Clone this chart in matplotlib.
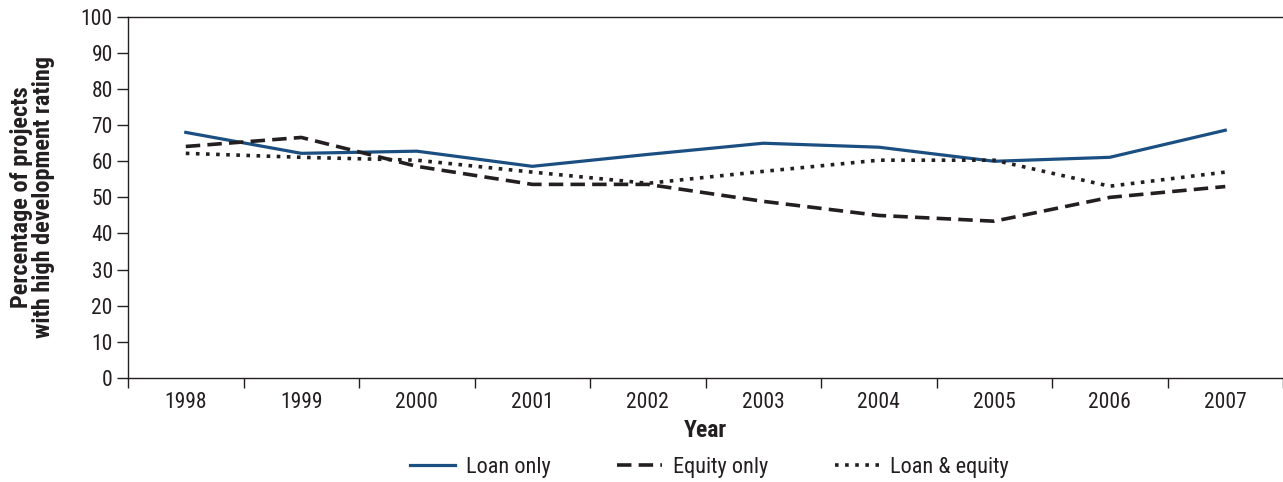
import matplotlib
matplotlib.use("Agg")
import matplotlib.pyplot as plt
import numpy as np

years = ["1998", "1999", "2000", "2001", "2002", "2003", "2004", "2005", "2006", "2007"]
loan_only = [68.0, 62.2, 62.8, 58.6, 61.9, 65.0, 63.9, 60.0, 61.1, 68.6]
equity_only = [64.1, 66.6, 58.6, 53.6, 53.6, 48.9, 45.0, 43.4, 50.0, 53.0]
loan_equity = [62.2, 61.1, 60.3, 57.0, 53.9, 57.2, 60.3, 60.3, 53.1, 57.0]

plt.rcParams['font.family'] = ['Roboto Condensed', 'DejaVu Sans']

def main():
    fig = plt.figure(figsize=(12.83, 4.82), dpi=100)
    ax = fig.add_axes([0.0998, 0.216, 0.9002, 0.749])
    x = np.arange(len(years))
    dark = '#231f20'

    ax.plot(x, loan_only, color='#1b4f82', lw=2.3, label='Loan only')
    ax.plot(x, equity_only, color=dark, lw=2.6, dashes=(4.0, 2.0), label='Equity only')
    ax.plot(x, loan_equity, color=dark, lw=2.6, dashes=(1.0, 1.8), label='Loan & equity')

    ax.set_xlim(-0.5, len(years) - 0.5)
    ax.set_ylim(0, 100)
    ax.set_yticks(range(0, 101, 10))
    ax.set_xticks(x)
    ax.set_xticklabels(years)
    ax.set_xticks(np.arange(-0.5, len(years), 1.0), minor=True)
    ax.tick_params(axis='x', which='major', length=0, pad=10, labelsize=15.5, colors=dark)
    ax.tick_params(axis='x', which='minor', length=7, width=1, direction='out', color=dark)
    ax.tick_params(axis='y', length=8, width=1, pad=3, labelsize=15.5, colors=dark)

    for s in ['left', 'bottom', 'top']:
        ax.spines[s].set_linewidth(1)
        ax.spines[s].set_color(dark)
    ax.spines['right'].set_visible(False)

    fig.text(0.550, 0.107, 'Year', fontsize=17, fontweight='bold', color=dark,
             ha='center', va='center')
    fig.text(0.025, 0.591, 'Percentage of projects\nwith high development rating',
             fontsize=17.5, fontweight='bold', color=dark, rotation=90,
             ha='center', va='center', multialignment='center', linespacing=0.95)

    fig.legend(loc='center', bbox_to_anchor=(0.553, 0.031), ncol=3, frameon=False,
               fontsize=16, handlelength=2.0, columnspacing=3.0, handletextpad=0.5,
               labelcolor=dark)
    fig.savefig('out.png', dpi=100)

if __name__ == "__main__":
    main()
